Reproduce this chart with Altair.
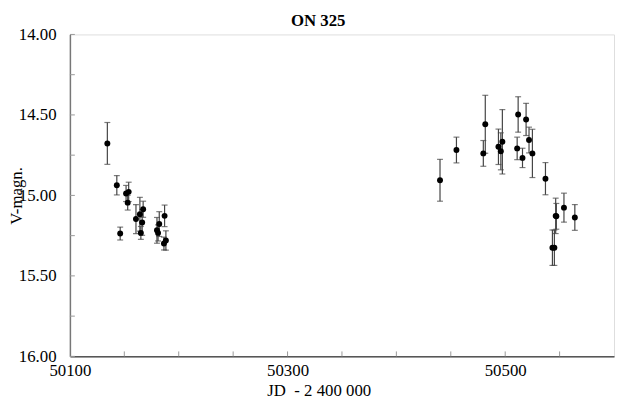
import altair as alt
import pandas as pd

# Julian date - 2 400 000
jd = [50134.4, 50143.1, 50146.2, 50151.6, 50154.0, 50153.1, 50160.7, 50164.3,
      50165.2, 50166.4, 50167.3, 50180.0, 50181.0, 50182.1, 50187.0, 50186.4,
      50188.2,
      50440.1, 50455.2, 50479.9, 50481.7, 50493.8, 50496.0, 50497.4, 50511.9,
      50511.0, 50515.9, 50519.2, 50521.9, 50525.0, 50537.0, 50543.4, 50545.2,
      50546.4, 50547.0, 50554.0, 50564.0]
# V magnitude
vmag = [14.677, 14.937, 15.237, 14.988, 14.978, 15.045, 15.147, 15.117,
        15.233, 15.168, 15.086, 15.217, 15.233, 15.178, 15.127, 15.299,
        15.280,
        14.906, 14.718, 14.739, 14.558, 14.698, 14.726, 14.667, 14.497,
        14.708, 14.767, 14.528, 14.656, 14.739, 14.896, 15.325, 15.325,
        15.127, 15.130, 15.076, 15.137]
# error (half length of bar)
verr = [0.13, 0.06, 0.04, 0.05, 0.06, 0.046, 0.09, 0.105,
        0.04, 0.08, 0.05, 0.08, 0.05, 0.077, 0.067, 0.04,
        0.06,
        0.13, 0.08, 0.08, 0.18, 0.11, 0.115, 0.2, 0.11,
        0.07, 0.06, 0.1, 0.08, 0.15, 0.1, 0.11, 0.11,
        0.11, 0.08, 0.09, 0.08]

y_label_values = [14.0, 14.5, 15.0, 15.5, 16.0]
y_minor_ticks = [14.0, 14.25, 14.5, 14.75, 15.0, 15.25, 15.5, 15.75, 16.0]
x_label_values = [50100, 50300, 50500]
x_minor_ticks = [50150, 50200, 50250, 50300, 50350, 50400, 50450, 50500, 50550]

df = pd.DataFrame({"jd": jd, "mag": vmag, "err": verr})
df["lo"] = df["mag"] - df["err"]
df["hi"] = df["mag"] + df["err"]

W, H = 551, 326
SERIF = "Liberation Serif"

xscale = alt.Scale(domain=[50100, 50600], nice=False, zero=False)
yscale = alt.Scale(domain=[14, 16], reverse=True, nice=False, zero=False)

xaxis = alt.Axis(values=x_label_values, format="d", ticks=False, grid=False,
                 labelFlush=False, labelPadding=6, labelFont=SERIF,
                 labelFontSize=17, labelColor="black", domainColor="black",
                 title="JD \u00a0- 2 400 000", titleFont=SERIF, titleFontSize=17,
                 titleFontWeight="normal", titleColor="black",
                 titleX=252, titleY=40, titleBaseline="alphabetic",
                 titleAlign="center", titleAnchor="start")
yaxis = alt.Axis(values=y_label_values, format=".2f", ticks=False, grid=False,
                 labelPadding=14, labelFont=SERIF, labelFontSize=17,
                 labelColor="black", domainColor="#777", domainWidth=1.5,
                 labelFlush=False,
                 title="V-magn.", titleFont=SERIF, titleFontSize=17,
                 titleFontWeight="normal", titleColor="black",
                 titleX=-49, titleBaseline="alphabetic", titleAnchor="middle")

base = alt.Chart(df)

bars = base.mark_rule(color="#444", strokeWidth=1.2).encode(
    x=alt.X("jd:Q", scale=xscale, axis=xaxis),
    y=alt.Y("lo:Q", scale=yscale, axis=yaxis),
    y2="hi:Q",
)
cap_lo = base.mark_tick(orient="horizontal", size=6, thickness=1.2, color="#444").encode(
    x=alt.X("jd:Q", axis=xaxis), y=alt.Y("lo:Q", axis=yaxis))
cap_hi = base.mark_tick(orient="horizontal", size=6, thickness=1.2, color="#444").encode(
    x=alt.X("jd:Q", axis=xaxis), y=alt.Y("hi:Q", axis=yaxis))
pts = base.mark_circle(size=36, color="black", opacity=1).encode(
    x=alt.X("jd:Q", axis=xaxis), y=alt.Y("mag:Q", axis=yaxis))

ytick = alt.Chart(pd.DataFrame({"lo": y_minor_ticks})).mark_rule(
    color="#999", strokeWidth=1).encode(
    y=alt.Y("lo:Q", axis=yaxis), x=alt.value(0), x2=alt.value(5))
xtick = alt.Chart(pd.DataFrame({"jd": x_minor_ticks})).mark_rule(
    color="#999", strokeWidth=1).encode(
    x=alt.X("jd:Q", axis=xaxis), y=alt.value(H), y2=alt.value(H - 5))

chart = alt.layer(ytick, xtick, bars, cap_lo, cap_hi, pts).properties(
    width=W, height=H,
    title=alt.TitleParams("ON 325", font=SERIF, fontSize=17, fontWeight="bold",
                          color="black", anchor="middle", dx=-24, dy=12, offset=8),
    autosize=alt.AutoSizeParams(type="none"),
    padding={"left": 62.7, "top": 24.3, "right": 1, "bottom": 42},
).configure_view(stroke="black", strokeWidth=1.2).configure_axis(
    labelFont=SERIF, labelFontSize=17, labelColor="black",
    titleFont=SERIF, titleFontSize=17, titleFontWeight="normal", titleColor="black",
).configure_title(font=SERIF).configure(background="white")

chart.save("out.html", embed_options={"renderer": "svg", "actions": False})
